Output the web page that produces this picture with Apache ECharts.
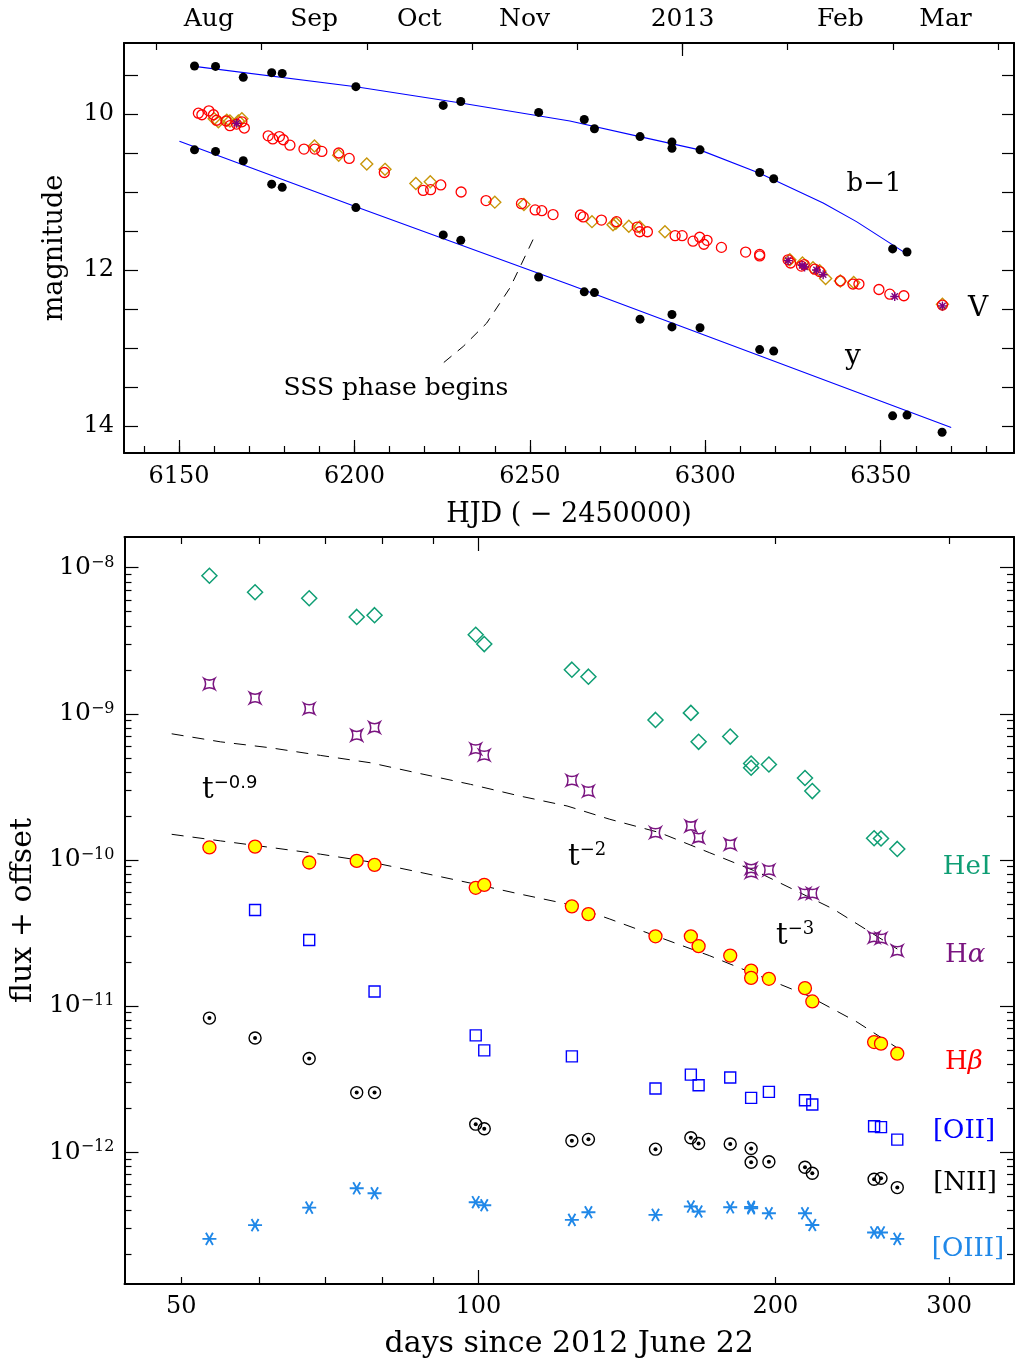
<!DOCTYPE html>
<html><head><meta charset="utf-8">
<script src="https://cdn.jsdelivr.net/npm/echarts@6/dist/echarts.min.js"></script>
<style>html,body{margin:0;padding:0;background:#fff}#c{width:1015px;height:1364px}</style>
</head><body><div id="c"></div><script>
// ---------------- TOP PANEL DATA (HJD - 2450000, magnitude) ----------------
const bHjd = [6154.4,6160.4,6168.3,6176.4,6179.4,6200.4,6225.3,6230.3,6252.5,6265.5,6268.4,6281.4,6290.5,6290.5,6298.5,6315.5,6319.5,6353.4,6357.5];
const bMag = [9.385,9.39,9.53,9.47,9.48,9.65,9.89,9.84,9.98,10.07,10.19,10.29,10.36,10.44,10.46,10.75,10.83,11.73,11.77];
const yHjd = [6154.4,6160.4,6168.3,6176.4,6179.4,6200.4,6225.3,6230.3,6252.5,6265.5,6268.4,6281.4,6290.5,6290.5,6298.5,6315.5,6319.5,6353.4,6357.5,6367.5];
const yMag = [10.46,10.48,10.60,10.90,10.94,11.20,11.55,11.62,12.09,12.28,12.29,12.63,12.57,12.73,12.74,13.02,13.04,13.87,13.86,14.08];
const bFitHjd = [6154.4,6200.4,6230.3,6261.4,6281.3,6298.4,6315.5,6333.6,6343.1,6357.3];
const bFitMag = [9.39,9.65,9.86,10.09,10.29,10.46,10.76,11.14,11.38,11.79];
const yFitHjd = [6150.1,6200.4,6261.4,6315.5,6370.1];
const yFitMag = [10.35,11.19,12.19,13.10,14.02];
const vCircHjd = [6155.5,6156.5,6158.5,6159.8,6160.7,6163.4,6164.5,6166.4,6167.9,6168.6,6175.4,6176.7,6178.6,6179.7,6181.6,6185.6,6188.7,6190.7,6195.5,6198.5,6208.5,6219.6,6221.7,6224.6,6230.4,6237.5,6247.6,6251.5,6253.4,6256.6,
  6264.4,6265.2,6270.4,6274.7,6280.6,6281.3,6283.5,6291.4,6293.4,6296.5,6298.4,6299.6,6300.5,6304.6,6311.5,6315.5,6315.5,6323.6,6324.3,6327.4,6328.2,6331.2,6332.6,6338.5,6342.1,6343.8,6349.5,6352.6,6356.6,6367.6];
const vCircMag = [9.99,10.01,9.96,10.01,10.08,10.09,10.15,10.13,10.10,10.18,10.28,10.32,10.29,10.33,10.40,10.45,10.45,10.48,10.50,10.57,10.75,10.98,10.97,10.91,11.00,11.11,11.15,11.23,11.24,11.29,
  11.295,11.32,11.36,11.38,11.45,11.51,11.51,11.56,11.56,11.63,11.58,11.67,11.62,11.71,11.77,11.80,11.82,11.87,11.91,11.95,11.93,11.99,12.02,12.14,12.18,12.18,12.25,12.31,12.33,12.45];
const vDiaHjd = [6160.0,6161.2,6163.6,6164.5,6166.9,6167.9,6188.6,6195.5,6203.5,6208.7,6217.5,6221.6,6240.0,6248.3,
  6267.7,6273.7,6274.5,6278.2,6281.3,6288.5,6324.1,6327.7,6330.7,6332.6,6334.3,6338.5,6342.3,6367.6];
const vDiaMag = [10.06,10.10,10.08,10.09,10.09,10.06,10.41,10.53,10.64,10.71,10.89,10.87,11.13,11.16,
  11.38,11.42,11.40,11.44,11.45,11.51,11.87,11.91,11.97,12.01,12.11,12.14,12.16,12.44];
const vStarHjd = [6166.4,6323.6,6327.6,6328.3,6331.7,6333.6,6354.0,6367.6];
const vStarMag = [10.12,11.88,11.94,11.96,12.00,12.06,12.34,12.46];
const sssHjd = [6250.9,6247.2,6244.3,6237.7,6231.0,6224.8];
const sssMag = [11.61,11.96,12.23,12.68,12.98,13.21];
const monthTickHjd = [6143.5,6173.5,6203.5,6233.5,6263.5,6293.5,6323.5,6353.5,6383.5];
const yearTickHjd = [6293.5];
const monthLabelHjd = [6158.5,6188.5,6218.5,6248.5,6293.5,6338.5,6368.5];
const monthLabelText = ['Aug','Sep','Oct','Nov','2013','Feb','Mar'];
const hjdLabels = [6150,6200,6250,6300,6350];
const magLabels = [10,12,14];

// ---------------- BOTTOM PANEL DATA (days, log10 flux) ----------------
const days = [53.4,59.4,67.4,75.3,78.5,99.4,101.4,124.4,129.3,151.2,164.2,167.2,180,189,189,197,214.3,218,251.8,255.9,265.8];
const heILog = [-8.055,-8.168,-8.209,-8.337,-8.325,-8.459,-8.523,-8.698,-8.746,-9.042,-8.994,-9.192,-9.156,-9.340,-9.369,-9.347,-9.440,-9.529,-9.852,-9.854,-9.925];
const hAlphaLog = [-8.796,-8.892,-8.965,-9.147,-9.094,-9.240,-9.283,-9.456,-9.529,-9.813,-9.768,-9.847,-9.893,-10.059,-10.086,-10.070,-10.229,-10.229,-10.530,-10.537,-10.621];
const hBetaLog = [-9.915,-9.909,-10.018,-10.007,-10.034,-10.191,-10.171,-10.318,-10.371,-10.523,-10.523,-10.591,-10.655,-10.758,-10.808,-10.814,-10.878,-10.969,-11.247,-11.258,-11.326];
const oIIdays = [59.4,67.4,78.5,99.4,101.4,124.4,151.2,164.2,167.2,180,189,197,214.3,218,251.8,255.9,265.8];
const oIILog = [-10.343,-10.548,-10.901,-11.201,-11.304,-11.345,-11.565,-11.470,-11.543,-11.490,-11.629,-11.588,-11.645,-11.674,-11.823,-11.829,-11.915];
const nIILog = [-11.083,-11.219,-11.360,-11.593,-11.593,-11.809,-11.840,-11.922,-11.913,-11.980,-11.902,-11.941,-11.945,-11.975,-12.070,-12.066,-12.104,-12.145,-12.186,-12.180,-12.243];
const oIIILog = [-12.594,-12.500,-12.380,-12.248,-12.282,-12.343,-12.364,-12.464,-12.412,-12.430,-12.373,-12.407,-12.378,-12.375,-12.385,-12.419,-12.419,-12.499,-12.550,-12.550,-12.594];
const fit1Days = [48.9,54.8,61.6,69.2,77.7,87.4,98.2,110.2,123,135.9,152.6,171.4,192.3,229,265.8];
const fit1Log = [-9.137,-9.192,-9.233,-9.285,-9.335,-9.410,-9.483,-9.563,-9.631,-9.722,-9.813,-9.950,-10.086,-10.337,-10.610];
const fit2Days = [48.9,54.8,61.6,69.2,77.7,87.4,98.2,110.2,123,135.9,152.6,171.4,192.3,215.6,242,266.5];
const fit2Log = [-9.825,-9.870,-9.915,-9.961,-10.014,-10.086,-10.159,-10.234,-10.302,-10.405,-10.530,-10.655,-10.792,-10.928,-11.110,-11.292];
const dayLabels = [50,100,200,300];
const dayMinorTicks = [50,60,70,80,90,200,300];
const dayMajorTicks = [100];
const fluxDecades = [1e-12,1e-11,1e-10,1e-9,1e-8];

// ---------------- helpers ----------------
const FF = '"DejaVu Serif", serif';
const SANS = '"DejaVu Sans", sans-serif';
const pairs = (xs, ys) => xs.map((x, i) => [x, ys[i]]);
const logPairs = (xs, ls) => xs.map((x, i) => [x, Math.pow(10, ls[i])]);

const hjdMinor = []; for (let v = 6140; v <= 6380; v += 10) hjdMinor.push(v);
const magTicks = []; for (let v = 9.5; v <= 14.01; v += 0.5) magTicks.push(+v.toFixed(1));
const fluxMinor = [];
for (let e = -13; e <= -8; e++) for (let m = 2; m <= 9; m++) fluxMinor.push(m * Math.pow(10, e));

const HJD_MIN = 6134.3, HJD_MAX = 6388, MAG_MIN = 9.09, MAG_MAX = 14.346;
const DAY_MIN = 43.8, DAY_MAX = 349, FLUX_MIN = Math.pow(10, -12.903), FLUX_MAX = Math.pow(10, -7.79);

const tickStyle = {color: '#000', width: 1.2};
const lineStyle = {color: '#000', width: 2};
function ax(o) {
  return Object.assign({
    splitLine: {show: false},
    axisLine: {show: false, onZero: false},
    axisLabel: {show: false},
    axisTick: {show: false},
    axisPointer: {show: false}
  }, o);
}
function ticks(vals, len) { return {show: true, inside: true, length: len, customValues: vals, lineStyle: tickStyle}; }

const xAxes = [
  // grid 0
  ax({gridIndex: 0, type: 'value', position: 'bottom', min: HJD_MIN, max: HJD_MAX,
      axisLine: {show: true, onZero: false, lineStyle},
      axisTick: ticks(hjdMinor, 7),
      axisLabel: {show: true, customValues: hjdLabels, margin: 12, fontFamily: FF, fontSize: 24, color: '#000',
        formatter: v => String(Math.round(v))},
      name: 'HJD ( − 2450000)', nameLocation: 'middle', nameGap: 48,
      nameTextStyle: {fontFamily: FF, fontSize: 27, color: '#000'}}),
  ax({gridIndex: 0, type: 'value', position: 'bottom', min: HJD_MIN, max: HJD_MAX, axisTick: ticks(hjdLabels, 13)}),
  ax({gridIndex: 0, type: 'value', position: 'top', min: HJD_MIN, max: HJD_MAX,
      axisLine: {show: true, onZero: false, lineStyle},
      axisTick: ticks(monthTickHjd, 7),
      axisLabel: {show: true, customValues: monthLabelHjd, margin: 11, fontFamily: FF, fontSize: 25, color: '#000',
        formatter: v => { for (let i = 0; i < monthLabelHjd.length; i++) if (Math.abs(monthLabelHjd[i] - v) < 0.05) return monthLabelText[i]; return ''; }}}),
  ax({gridIndex: 0, type: 'value', position: 'top', min: HJD_MIN, max: HJD_MAX, axisTick: ticks(yearTickHjd, 13)}),
  // grid 1
  ax({gridIndex: 1, type: 'log', logBase: 10, position: 'bottom', min: DAY_MIN, max: DAY_MAX,
      axisLine: {show: true, onZero: false, lineStyle},
      axisTick: ticks(dayMinorTicks, 7),
      axisLabel: {show: true, customValues: dayLabels, margin: 11, fontFamily: FF, fontSize: 24, color: '#000',
        formatter: v => String(Math.round(v))},
      name: 'days since 2012 June 22', nameLocation: 'middle', nameGap: 45,
      nameTextStyle: {fontFamily: FF, fontSize: 30, color: '#000'}}),
  ax({gridIndex: 1, type: 'log', logBase: 10, position: 'bottom', min: DAY_MIN, max: DAY_MAX, axisTick: ticks(dayMajorTicks, 14)}),
  ax({gridIndex: 1, type: 'log', logBase: 10, position: 'top', min: DAY_MIN, max: DAY_MAX,
      axisLine: {show: true, onZero: false, lineStyle}, axisTick: ticks(dayMinorTicks, 7)}),
  ax({gridIndex: 1, type: 'log', logBase: 10, position: 'top', min: DAY_MIN, max: DAY_MAX, axisTick: ticks(dayMajorTicks, 14)})
];

const yAxes = [
  ax({gridIndex: 0, type: 'value', position: 'left', inverse: true, min: MAG_MIN, max: MAG_MAX,
      axisLine: {show: true, onZero: false, lineStyle},
      axisTick: ticks(magTicks, 14),
      axisLabel: {show: true, customValues: magLabels, margin: 10, fontFamily: FF, fontSize: 24, color: '#000'},
      name: 'magnitude', nameLocation: 'middle', nameGap: 56, nameRotate: 90,
      nameTextStyle: {fontFamily: FF, fontSize: 27, color: '#000'}}),
  ax({gridIndex: 0, type: 'value', position: 'right', inverse: true, min: MAG_MIN, max: MAG_MAX,
      axisLine: {show: true, onZero: false, lineStyle}, axisTick: ticks(magTicks, 12)}),
  ax({gridIndex: 1, type: 'log', logBase: 10, position: 'left', min: FLUX_MIN, max: FLUX_MAX,
      axisLine: {show: true, onZero: false, lineStyle},
      axisTick: ticks(fluxMinor, 7),
      axisLabel: {show: true, customValues: fluxDecades, margin: 10, color: '#000',
        formatter: v => '{b|10}{s|−' + Math.round(-Math.log10(v)) + '}',
        rich: {b: {fontFamily: FF, fontSize: 25, color: '#000'},
               s: {fontFamily: FF, fontSize: 16, color: '#000', verticalAlign: 'top', padding: [0, 0, 10, 0]}}},
      name: 'flux + offset', nameLocation: 'middle', nameGap: 82, nameRotate: 90,
      nameTextStyle: {fontFamily: FF, fontSize: 30, color: '#000'}}),
  ax({gridIndex: 1, type: 'log', logBase: 10, position: 'left', min: FLUX_MIN, max: FLUX_MAX, axisTick: ticks(fluxDecades, 14)}),
  ax({gridIndex: 1, type: 'log', logBase: 10, position: 'right', min: FLUX_MIN, max: FLUX_MAX,
      axisLine: {show: true, onZero: false, lineStyle}, axisTick: ticks(fluxMinor, 7)}),
  ax({gridIndex: 1, type: 'log', logBase: 10, position: 'right', min: FLUX_MIN, max: FLUX_MAX, axisTick: ticks(fluxDecades, 14)})
];

const STAR4 = 'path://M-10,-10 Q0,-4 10,-10 Q4,0 10,10 Q0,4 -10,10 Q-4,0 -10,-10 Z';
const AST6 = 'path://M-10,0 L10,0 M-5,-8.66 L5,8.66 M-5,8.66 L5,-8.66';
const AST8 = 'path://M-10,0 L10,0 M0,-10 L0,10 M-7,-7 L7,7 M-7,7 L7,-7';

function sc(xi, yi, data, symbol, size, itemStyle, z) {
  return {type: 'scatter', xAxisIndex: xi, yAxisIndex: yi, data, symbol, symbolSize: size,
          symbolKeepAspect: true, itemStyle: Object.assign({opacity: 1}, itemStyle), z: z || 2, silent: true};
}
function ln(xi, yi, data, style, z) {
  return {type: 'line', xAxisIndex: xi, yAxisIndex: yi, data, showSymbol: false, symbol: 'none',
          lineStyle: style, z: z || 1, silent: true};
}

const series = [
  ln(0, 0, pairs(bFitHjd, bFitMag), {color: '#0000ff', width: 1.1}),
  ln(0, 0, pairs(yFitHjd, yFitMag), {color: '#0000ff', width: 1.1}),
  ln(0, 0, pairs(sssHjd, sssMag), {color: '#000', width: 1, type: [10, 8]}),
  sc(0, 0, pairs(bHjd, bMag), 'circle', 9, {color: '#000'}),
  sc(0, 0, pairs(yHjd, yMag), 'circle', 9, {color: '#000'}),
  sc(0, 0, pairs(vDiaHjd, vDiaMag), 'diamond', 12, {color: 'none', borderColor: '#c8960a', borderWidth: 1.4}),
  sc(0, 0, pairs(vCircHjd, vCircMag), 'circle', 10, {color: 'none', borderColor: '#ff0000', borderWidth: 1.3}),
  sc(0, 0, pairs(vStarHjd, vStarMag), AST8, 9, {color: 'none', borderColor: '#800080', borderWidth: 1.4}, 3),

  ln(4, 2, logPairs(fit1Days, fit1Log), {color: '#000', width: 1, type: [12, 9]}),
  ln(4, 2, logPairs(fit2Days, fit2Log), {color: '#000', width: 1, type: [12, 9]}),
  sc(4, 2, logPairs(days, heILog), 'diamond', 15, {color: 'none', borderColor: '#0f9e74', borderWidth: 1.5}),
  sc(4, 2, logPairs(days, hAlphaLog), STAR4, 11, {color: 'none', borderColor: '#7a1580', borderWidth: 1.5}),
  sc(4, 2, logPairs(days, hBetaLog), 'circle', 13, {color: '#ffff00', borderColor: '#ff0000', borderWidth: 1.3}),
  sc(4, 2, logPairs(oIIdays, oIILog), 'rect', 11, {color: 'none', borderColor: '#0000ff', borderWidth: 1.4}),
  sc(4, 2, logPairs(days, nIILog), 'circle', 12, {color: 'none', borderColor: '#000', borderWidth: 1.4}),
  sc(4, 2, logPairs(days, nIILog), 'circle', 4, {color: '#000'}),
  sc(4, 2, logPairs(days, oIIILog), AST6, 14, {color: 'none', borderColor: '#2088e8', borderWidth: 1.9})
];

function txt(x, y, text, size, fill, align) {
  return {type: 'text', x, y, silent: true, z: 10,
    style: {text, fontFamily: FF, fontSize: size, fill: fill || '#000', align: align || 'center', verticalAlign: 'middle'}};
}
function rtxt(x, y, text, rich, align) {
  return {type: 'text', x, y, silent: true, z: 10,
    style: {text, rich, align: align || 'left', verticalAlign: 'middle', fontFamily: FF, fontSize: 27, fill: '#000'}};
}
const tRich = (expFont) => ({
  t: {fontFamily: FF, fontSize: 29, fill: '#000'},
  s: {fontFamily: expFont, fontSize: 18, fill: '#000', verticalAlign: 'top', padding: [0, 0, 14, 0]}
});

const graphic = [
  txt(874, 184, 'b−1', 26),
  txt(978, 309, 'V', 28),
  txt(853, 357, 'y', 28),
  txt(396, 388, 'SSS phase begins', 25),
  rtxt(202, 790, '{t|t}{s|−0.9}', tRich(SANS)),
  rtxt(568, 857, '{t|t}{s|−2}', tRich(FF)),
  rtxt(776, 936, '{t|t}{s|−3}', tRich(FF)),
  txt(967, 867, 'HeI', 26, '#0f9e74'),
  rtxt(945, 955, '{n|H}{i|α}', {n: {fontFamily: FF, fontSize: 26, fill: '#7a1580'}, i: {fontFamily: FF, fontSize: 26, fontStyle: 'italic', fill: '#7a1580'}}),
  rtxt(945, 1062, '{n|H}{i|β}', {n: {fontFamily: FF, fontSize: 26, fill: '#ff0000'}, i: {fontFamily: FF, fontSize: 26, fontStyle: 'italic', fill: '#ff0000'}}),
  txt(964, 1131, '[OII]', 26, '#0000ff'),
  txt(965, 1183, '[NII]', 26, '#000'),
  txt(968, 1249, '[OIII]', 26, '#2088e8')
];

const chart = echarts.init(document.getElementById('c'), null, {renderer: 'canvas'});
chart.setOption({
  animation: false,
  backgroundColor: '#fff',
  grid: [
    {left: 124, top: 43, width: 890, height: 410, containLabel: false},
    {left: 124, top: 537, width: 890, height: 749, containLabel: false}
  ],
  xAxis: xAxes,
  yAxis: yAxes,
  series,
  graphic
});
</script></body></html>
